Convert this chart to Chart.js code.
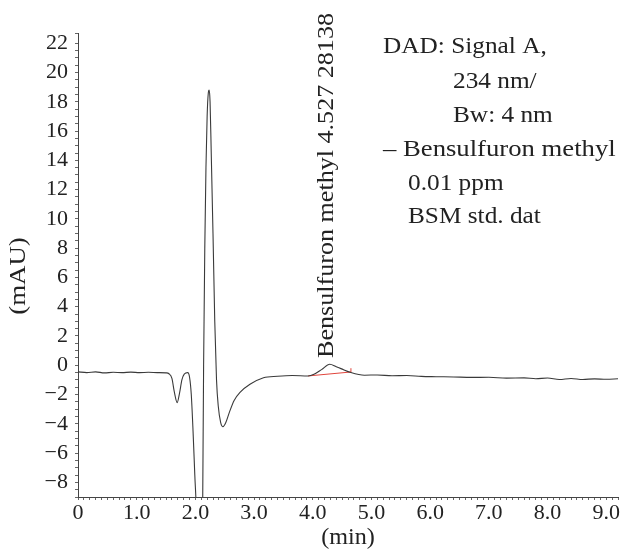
<!DOCTYPE html>
<html>
<head>
<meta charset="utf-8">
<script src="https://cdn.jsdelivr.net/npm/chart.js@4.4.1/dist/chart.umd.min.js"></script>
<style>
  html, body { margin: 0; padding: 0; background: #fff; }
  #wrap { width: 633px; height: 554px; }
</style>
</head>
<body>
<div id="wrap"><canvas id="chromChart" width="633" height="554"></canvas></div>
<script>
// =======================================
// DADOS DO CROMATOGRAMA
// =======================================
const retentionTime = [
  0, 0.15, 0.3, 0.45, 0.6, 0.75, 0.9, 1.05, 1.2, 1.35, 1.5, 1.55, 1.6, 1.64, 1.69,
  1.73, 1.77, 1.81, 1.87, 1.9, 1.93, 1.96, 1.99, 2.02, 2.06, 2.1, 2.12, 2.14, 2.16,
  2.18, 2.2, 2.22, 2.235, 2.25, 2.27, 2.3, 2.33, 2.36, 2.39, 2.43, 2.47, 2.52, 2.58,
  2.66, 2.76, 2.93, 3.16, 3.4, 3.65, 3.92, 4.02, 4.15, 4.29, 4.4, 4.48, 4.65, 4.88,
  5.1, 5.35, 5.6, 5.85, 6.1, 6.4, 6.7, 7.0, 7.3, 7.6, 7.8, 8.0, 8.2, 8.4, 8.6, 8.8,
  9.0, 9.2
]
const signal = [
  -0.45, -0.5, -0.45, -0.52, -0.48, -0.5, -0.47, -0.5, -0.48, -0.5, -0.52, -0.58, -0.9, -1.8, -2.55,
  -1.9, -1.0, -0.6, -0.5, -0.8, -2.0, -4.5, -7.5, -10.5, -20, -20, -12, 0, 8,
  13.5, 17, 18.6, 18.8, 18, 14.5, 9, 3, -1, -2.8, -3.9, -4.2, -3.9, -3.2,
  -2.4, -1.85, -1.3, -0.85, -0.75, -0.7, -0.73, -0.62, -0.3, 0.07, -0.1, -0.23, -0.5, -0.68,
  -0.66, -0.72, -0.7, -0.76, -0.78, -0.8, -0.83, -0.82, -0.88, -0.86, -0.92, -0.87, -0.97, -0.9, -0.97, -0.93,
  -0.96, -0.92
]

// linha de base da integracao (vermelha)
const baselineTime = [3.92, 4.65]
const baselineSignal = [-0.73, -0.46]
const markerTime = [4.65, 4.65]
const markerSignal = [-0.5, -0.2]

const peakLabel = 'Bensulfuron methyl 4.527 28138'
const infoLines = [
  'DAD: Signal A,',
  '234 nm/',
  'Bw: 4 nm',
  '– Bensulfuron methyl',
  '0.01 ppm',
  'BSM std. dat'
]
const xTitle = '(min)'
const yTitle = '(mAU)'

const SERIF = '"Liberation Serif", "Times New Roman", serif'

function toPoints(xs, ys) {
  return xs.map((x, i) => ({ x, y: ys[i] }))
}

function formatMinus(v) {
  return v < 0 ? '\u2212' + Math.abs(v) : String(v)
}

// desenha texto com leve alargamento horizontal
function drawText(ctx, text, x, y, size, sx, align) {
  ctx.save()
  ctx.font = size + 'px ' + SERIF
  ctx.fillStyle = '#222'
  ctx.textBaseline = 'middle'
  ctx.textAlign = align || 'left'
  ctx.translate(x, y)
  ctx.scale(sx, 1)
  ctx.fillText(text, 0, 0)
  ctx.restore()
}

// =======================================
// TEXTOS EXTRAS
// =======================================
const textPlugin = {
  id: 'chromTexts',
  afterDraw(chart) {
    const ctx = chart.ctx

    // rotulo do pico, vertical
    const xs = chart.scales.x
    const px = xs.getPixelForValue(4.29) - 3
    ctx.save()
    ctx.font = '23px ' + SERIF
    const w = ctx.measureText(peakLabel).width
    const stretch = 345 / w
    ctx.translate(px, 358)
    ctx.rotate(-Math.PI / 2)
    ctx.scale(stretch, 1)
    ctx.fillStyle = '#222'
    ctx.textBaseline = 'middle'
    ctx.textAlign = 'left'
    ctx.fillText(peakLabel, 0, 0)
    ctx.restore()

    // bloco de informacao
    const lefts = [383, 453, 453, 383, 408, 408]
    const tops = [47, 82, 116, 150, 184, 217]
    const widen = [1.1, 1.1, 1.1, 1.16, 1.1, 1.1]
    infoLines.forEach((line, i) => {
      drawText(ctx, line, lefts[i], tops[i], 23, widen[i])
    })

    // titulos dos eixos
    drawText(ctx, xTitle, 348, 538, 23, 1.05, 'center')

    ctx.save()
    ctx.translate(19, 276)
    ctx.rotate(-Math.PI / 2)
    drawText(ctx, yTitle, 0, 0, 24, 1.12, 'center')
    ctx.restore()
  }
}

// =======================================
// GRAFICO
// =======================================
const ctx = document.getElementById('chromChart').getContext('2d')

new Chart(ctx, {
  type: 'line',
  data: {
    datasets: [
      {
        label: 'Signal A',
        data: toPoints(retentionTime, signal),
        borderColor: '#3a3a3a',
        borderWidth: 1.1,
        pointRadius: 0,
        cubicInterpolationMode: 'monotone',
        fill: false
      },
      {
        label: 'Baseline',
        data: toPoints(baselineTime, baselineSignal),
        borderColor: '#e0453c',
        borderWidth: 1,
        pointRadius: 0,
        fill: false
      },
      {
        label: 'Marker',
        data: toPoints(markerTime, markerSignal),
        borderColor: '#e0453c',
        borderWidth: 1,
        pointRadius: 0,
        fill: false
      }
    ]
  },
  options: {
    responsive: false,
    animation: false,
    devicePixelRatio: 1,
    layout: { padding: { top: 33, right: 15, left: 0, bottom: 0 } },
    plugins: {
      legend: { display: false },
      tooltip: { enabled: false }
    },
    scales: {
      x: {
        type: 'linear',
        min: 0,
        max: 9.2,
        afterFit: s => { s.height = 57 },
        border: { color: '#444', width: 1 },
        grid: { drawOnChartArea: false, drawTicks: true, tickLength: 3, color: '#666' },
        ticks: {
          stepSize: 0.1,
          maxTicksLimit: 200,
          autoSkip: false,
          maxRotation: 0,
          minRotation: 0,
          padding: 0,
          color: '#222',
          font: { family: SERIF, size: 22 },
          callback: v => {
            const r = Math.round(v * 10) / 10
            if (Math.abs(r - Math.round(r)) > 1e-6) return ''
            return r === 0 ? '0' : r.toFixed(1)
          }
        }
      },
      y: {
        min: -9,
        max: 22.7,
        afterFit: s => { s.width = 78 },
        border: { color: '#444', width: 1 },
        grid: { drawOnChartArea: false, drawTicks: true, tickLength: 3, color: '#666' },
        ticks: {
          stepSize: 0.5,
          maxTicksLimit: 200,
          autoSkip: false,
          padding: 7,
          color: '#222',
          font: { family: SERIF, size: 22 },
          callback: v => {
            const r = Math.round(v * 10) / 10
            if (Math.abs(r / 2 - Math.round(r / 2)) > 1e-6) return ''
            return formatMinus(r)
          }
        }
      }
    }
  },
  plugins: [textPlugin]
})
</script>
</body>
</html>
